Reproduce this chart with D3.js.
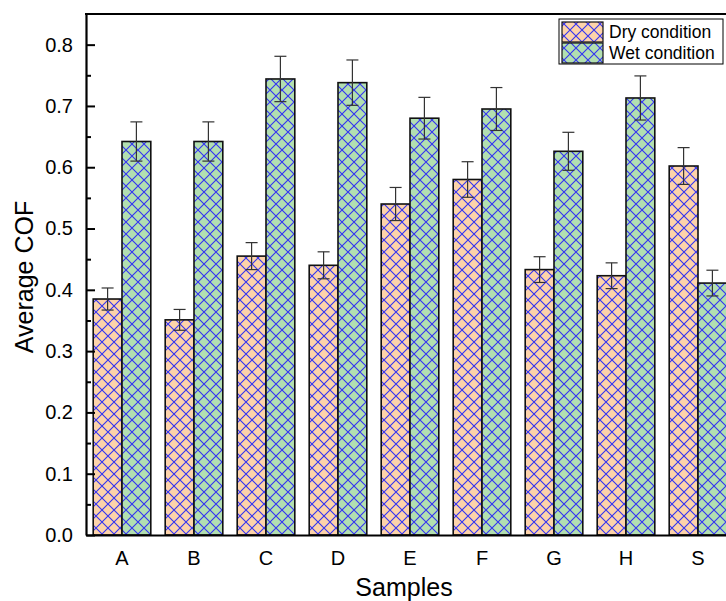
<!DOCTYPE html>
<html>
<head>
<meta charset="utf-8">
<script src="https://cdn.jsdelivr.net/npm/d3@7/dist/d3.min.js"></script>
<style>
  html, body { margin: 0; padding: 0; background: #fff; }
  svg { display: block; font-family: "Liberation Sans", Arial, sans-serif; }
</style>
</head>
<body>
<svg id="chart" width="726" height="601"></svg>
<script>
// Samples and average coefficient of friction under each condition
const samples = ["A", "B", "C", "D", "E", "F", "G", "H", "S"];
const dryValues = [0.385, 0.351, 0.455, 0.440, 0.540, 0.580, 0.433, 0.423, 0.602];
const dryErrors = [0.018, 0.017, 0.022, 0.022, 0.027, 0.029, 0.021, 0.021, 0.030];
const wetValues = [0.642, 0.642, 0.744, 0.738, 0.680, 0.695, 0.626, 0.713, 0.411];
const wetErrors = [0.032, 0.032, 0.037, 0.037, 0.034, 0.035, 0.031, 0.036, 0.021];
const seriesNames = ["Dry condition", "Wet condition"];
const yTicks = [0.0, 0.1, 0.2, 0.3, 0.4, 0.5, 0.6, 0.7, 0.8];

const svg = d3.select("#chart");
const plotLeft = 86, plotRight = 734, plotTop = 14, plotBottom = 535;

const x = d3.scaleBand().domain(samples).range([plotLeft, plotRight])
  .paddingInner(0.2).paddingOuter(0.1);
const sub = d3.scaleBand().domain([0, 1]).range([0, x.bandwidth()]);
const y = d3.scaleLinear().domain([0, 0.85]).range([plotBottom, plotTop]);

const fills = ["#FDD3AA", "#B2DFB1"];
const hatchColor = "#3333F2";

// Crosshatch patterns layered over the fill colours
const defs = svg.append("defs");
fills.forEach((c, i) => {
  const p = defs.append("pattern")
    .attr("id", "hatch" + i)
    .attr("patternUnits", "userSpaceOnUse")
    .attr("width", 12).attr("height", 12);
  p.append("rect").attr("width", 12).attr("height", 12).attr("fill", c);
  p.append("path")
    .attr("d", "M0,0L12,12M12,0L0,12M-1,11L1,13M11,-1L13,1")
    .attr("stroke", hatchColor).attr("stroke-width", 1.1).attr("fill", "none");
});

const series = [
  { values: dryValues, errors: dryErrors },
  { values: wetValues, errors: wetErrors }
];

const plot = svg.append("g");

series.forEach((s, si) => {
  const g = plot.append("g");
  g.selectAll("rect")
    .data(samples)
    .join("rect")
    .attr("x", d => x(d) + sub(si))
    .attr("y", (d, i) => y(s.values[i]))
    .attr("width", sub.bandwidth())
    .attr("height", (d, i) => y(0) - y(s.values[i]))
    .attr("fill", `url(#hatch${si})`)
    .attr("stroke", "#111")
    .attr("stroke-width", 1.6);
});

// Error bars
series.forEach((s, si) => {
  const g = plot.append("g").attr("stroke", "#333").attr("stroke-width", 1.2);
  samples.forEach((d, i) => {
    const cx = x(d) + sub(si) + sub.bandwidth() / 2;
    const lo = y(s.values[i] - s.errors[i]);
    const hi = y(s.values[i] + s.errors[i]);
    g.append("line").attr("x1", cx).attr("x2", cx).attr("y1", lo).attr("y2", hi);
    g.append("line").attr("x1", cx - 6).attr("x2", cx + 6).attr("y1", lo).attr("y2", lo);
    g.append("line").attr("x1", cx - 6).attr("x2", cx + 6).attr("y1", hi).attr("y2", hi);
  });
});

// Y axis: major ticks with labels, minor ticks between, all pointing inward
const yAxis = svg.append("g")
  .attr("transform", `translate(${plotLeft},0)`)
  .call(d3.axisLeft(y).tickValues(yTicks).tickFormat(d3.format(".1f"))
    .tickSizeInner(-9).tickSizeOuter(0).tickPadding(13));
yAxis.selectAll("text").attr("font-size", 20).attr("fill", "#000")
  .style("font-family", '"Liberation Sans", Arial, sans-serif');
yAxis.selectAll(".tick line").attr("stroke", "#000").attr("stroke-width", 2);
yAxis.select(".domain").attr("stroke", "#000").attr("stroke-width", 2.2);

const minorTicks = yTicks.slice(0, -1).map(v => +(v + 0.05).toFixed(2));
svg.append("g")
  .attr("transform", `translate(${plotLeft},0)`)
  .call(d3.axisLeft(y).tickValues(minorTicks).tickFormat("").tickSizeInner(-5).tickSizeOuter(0))
  .call(g => g.select(".domain").remove())
  .selectAll(".tick line").attr("stroke", "#000").attr("stroke-width", 2);

// X axis
const xAxis = svg.append("g")
  .attr("transform", `translate(0,${plotBottom})`)
  .call(d3.axisBottom(x).tickSize(0).tickPadding(16));
xAxis.selectAll("text").attr("font-size", 20).attr("fill", "#000")
  .style("font-family", '"Liberation Sans", Arial, sans-serif');
xAxis.select(".domain").attr("stroke", "#000").attr("stroke-width", 2.2);

// Top frame line
svg.append("line")
  .attr("x1", plotLeft - 1).attr("x2", plotRight + 10)
  .attr("y1", plotTop).attr("y2", plotTop)
  .attr("stroke", "#000").attr("stroke-width", 2.2);

// Axis titles
svg.append("text")
  .attr("transform", `translate(33,277) rotate(-90)`)
  .attr("text-anchor", "middle")
  .attr("font-size", 25)
  .text("Average COF");

svg.append("text")
  .attr("x", 404).attr("y", 596)
  .attr("text-anchor", "middle")
  .attr("font-size", 25)
  .text("Samples");

// Legend
const legend = svg.append("g");
legend.append("rect")
  .attr("x", 559).attr("y", 19).attr("width", 164).attr("height", 45)
  .attr("fill", "#fff").attr("stroke", "#000").attr("stroke-width", 1);
seriesNames.forEach((name, i) => {
  const ry = 22 + i * 21;
  legend.append("rect")
    .attr("x", 562).attr("y", ry).attr("width", 41).attr("height", 20)
    .attr("fill", `url(#hatch${i})`)
    .attr("stroke", "#111").attr("stroke-width", 1.2);
  legend.append("text")
    .attr("x", 609).attr("y", ry + 16)
    .attr("font-size", 17.5)
    .text(name);
});
</script>
</body>
</html>
